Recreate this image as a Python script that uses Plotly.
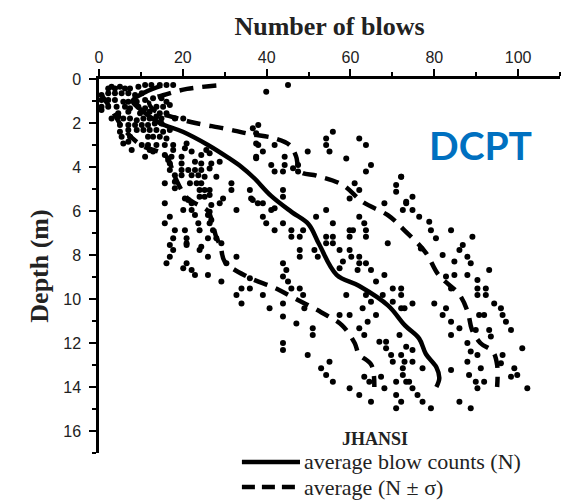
import plotly.graph_objects as go

# ---- Data (N = number of blows, depth in m) ----
# average blow counts (N)
avg_depth = [0.3, 0.6, 1.0, 1.4, 2.0, 2.4, 3.0, 3.6, 4.0, 4.5, 5.3, 6.05, 6.6, 7.5,
             8.9, 9.4, 10.3, 11.2, 11.8, 12.5, 13.1, 13.6, 14.0]
avg_N = [15, 11, 8, 10, 14.5, 20, 26, 31, 34, 37, 41, 46, 50, 52.5,
         56.7, 62, 69, 73, 76.4, 78, 80.5, 81.2, 80.5]

# average - sigma
lo_depth = [0.7, 1.4, 2.3, 3.0, 3.5, 4.4, 5.4, 6.0, 6.5, 7.2, 7.6, 8.3, 9.0, 9.5,
            10.0, 10.6, 11.2, 12.0, 12.5, 13.0, 14.0]
lo_N = [0.5, 3, 6, 10, 16, 18, 21, 26, 27, 28, 29, 30, 35.5, 42,
        47, 53, 58, 61, 62, 65, 65.7]

# average + sigma
hi_depth = [0.3, 0.45, 0.7, 1.0, 1.4, 1.75, 2.0, 2.25, 2.5, 2.7, 3.0, 3.5, 4.2, 4.4,
            4.8, 5.6, 6.2, 6.9, 7.9, 8.9, 9.8, 10.6, 11.4, 12.0, 12.4, 13.0, 14.0]
hi_N = [28, 21, 16, 12, 13, 18, 23, 30, 36, 42, 45.5, 47, 48, 52,
        58, 63, 69, 73, 78, 81, 86, 88, 89, 91, 94, 95, 95]

# individual blow counts, (N, depth) readings grouped by region
pts_shallow_left = [
    (2.2, 0.43), (3.0, 0.35), (3.8, 0.43), (5.0, 0.35), (6.2, 0.43), (7.4, 0.43), (9.4, 0.35),
    (11.0, 0.27), (12.5, 0.27), (14.5, 0.27), (16.1, 0.27), (17.7, 0.27),
    (0.6, 0.73), (2.2, 0.65), (3.8, 0.65), (5.4, 0.65), (7.0, 0.65), (8.6, 0.73), (10.2, 0.65),
    (0.6, 0.96), (2.2, 0.96), (3.8, 0.96), (5.8, 1.03), (7.0, 1.03), (9.0, 1.03), (11.0, 0.96),
    (12.9, 0.88), (14.9, 0.88), (16.1, 1.03),
    (0.6, 1.26), (2.2, 1.26), (4.2, 1.26), (6.2, 1.26), (7.4, 1.33), (9.4, 1.26), (11.0, 1.33),
    (13.7, 1.26), (15.3, 1.26), (16.9, 1.18),
    (0.6, 1.41), (4.6, 1.56), (7.0, 1.49), (9.8, 1.56), (12.1, 1.49), (14.5, 1.56), (16.1, 1.56),
    (3.0, 1.79), (4.6, 1.71), (5.8, 1.79), (7.4, 1.79), (9.0, 1.87), (10.6, 1.79), (12.1, 1.79),
    (13.7, 1.71), (14.9, 1.79), (18.1, 1.79), (20.1, 1.79),
    (5.0, 2.09), (7.0, 2.09), (8.6, 2.09), (10.2, 2.09), (11.7, 2.09), (13.3, 2.02), (14.9, 2.02),
    (5.0, 2.4), (7.0, 2.32), (9.0, 2.32), (10.6, 2.32), (12.1, 2.32), (13.7, 2.32), (15.3, 2.4),
    (16.9, 2.32),
    (5.4, 2.62), (7.4, 2.62), (11.7, 2.62), (12.9, 2.62), (14.5, 2.62), (16.1, 2.7),
    (5.8, 2.93), (7.0, 2.85), (10.2, 3.0), (11.7, 3.0), (13.7, 3.0), (15.7, 3.0), (17.7, 3.0),
    (20.9, 2.93),
    (7.8, 3.23), (12.1, 3.23), (12.9, 3.3), (17.7, 3.23), (20.5, 3.15),
    (11.0, 3.53), (15.7, 3.46), (17.3, 3.53), (19.7, 3.53), (22.1, 3.3), (24.4, 3.46),
    (26.4, 3.38), (25.6, 3.23),
    (16.5, 3.68), (16.9, 3.84), (19.7, 3.84), (22.9, 3.76), (24.4, 3.84), (26.8, 3.84),
    (28.8, 3.76),
]
pts_mid_left = [
    (16.9, 4.14), (19.7, 4.14), (21.3, 4.14), (22.9, 4.14), (24.4, 4.14), (26.4, 4.07),
    (18.1, 4.37), (19.7, 4.37), (22.1, 4.37), (23.7, 4.37), (25.2, 4.44), (28.0, 4.44),
    (15.7, 4.74), (18.1, 4.67), (21.7, 4.74), (23.3, 4.74), (24.4, 4.74), (31.6, 4.74),
    (18.1, 4.97), (24.0, 5.05), (25.2, 5.05), (26.4, 5.05), (31.6, 5.05),
    (20.5, 5.43), (21.3, 5.5), (24.0, 5.35), (25.2, 5.35), (26.4, 5.27), (29.6, 5.43),
    (15.7, 5.65), (22.1, 5.65), (26.8, 5.73), (28.8, 5.65), (32.8, 5.96), (36.3, 5.43),
    (20.1, 5.96), (22.1, 5.96), (26.4, 6.03),
    (16.9, 6.26), (22.9, 6.18), (26.0, 6.18), (26.8, 6.41),
    (15.7, 6.56), (23.7, 6.56), (26.4, 6.56),
    (18.1, 6.87), (20.5, 6.87), (24.0, 6.87), (27.2, 6.87),
    (17.7, 7.24), (20.9, 7.24), (26.0, 7.24), (28.0, 7.24),
    (16.9, 7.55), (20.9, 7.47), (24.4, 7.62), (29.2, 7.47),
]
pts_shallow_mid = [
    (39.9, 0.58), (45.1, 0.27),
    (38.0, 2.09), (36.7, 2.24), (37.5, 2.47), (37.5, 2.93), (37.5, 3.6),
    (38.0, 3.0), (39.1, 3.3), (37.5, 3.53), (41.1, 3.91), (41.9, 4.21), (43.9, 4.21),
    (44.3, 3.91), (44.3, 3.53), (46.3, 4.06), (47.5, 3.91), (47.5, 4.21), (41.9, 3.0),
    (49.8, 3.3), (54.2, 2.7), (54.2, 3.0), (55.8, 2.4), (55.0, 3.3), (59.0, 3.61),
    (62.1, 2.7), (63.7, 3.0), (64.9, 3.91), (63.7, 4.21), (61.0, 4.74), (62.1, 5.05),
    (59.8, 5.43), (68.1, 5.65), (72.1, 4.44), (70.9, 4.82), (70.9, 5.12), (73.3, 5.65),
    (36.7, 5.5), (37.9, 5.65), (39.1, 5.65), (43.9, 5.05), (43.9, 5.35), (41.1, 5.96),
    (41.9, 5.88), (39.1, 6.26), (39.9, 6.56), (41.9, 6.87), (43.9, 6.56), (45.9, 6.87),
    (45.9, 7.17), (47.9, 7.17), (48.7, 6.87), (51.8, 6.26), (54.2, 5.96), (55.8, 6.56),
    (54.2, 7.17), (55.8, 7.17), (54.2, 7.47), (55.8, 7.47), (59.8, 6.87), (60.6, 6.87),
    (59.8, 7.17), (62.1, 6.26), (63.3, 6.56), (63.7, 6.87), (63.7, 7.17), (68.9, 7.47),
    (72.5, 5.96), (36.0, 5.05),
]
pts_shallow_right = [
    (72.1, 4.44), (73.3, 5.58), (74.8, 5.35), (74.8, 5.96), (76.4, 6.26), (78.8, 6.49),
    (79.2, 6.87), (84.0, 6.87), (80.4, 7.24), (86.8, 7.55), (89.1, 7.17), (76.8, 7.7),
]
pts_deep_left = [
    (17.7, 7.77), (16.9, 8.08), (16.1, 8.38), (20.9, 8.38), (20.1, 8.6), (22.1, 8.68),
    (22.9, 8.91), (26.0, 8.91), (24.0, 7.77), (26.0, 8.08), (29.2, 9.21), (30.4, 8.38),
    (32.8, 8.08), (34.0, 9.52), (32.8, 9.82), (34.0, 10.2), (36.0, 9.52), (20.9, 7.55),
]
pts_deep_mid = [
    (47.9, 7.77), (47.9, 8.08), (51.4, 7.77), (52.2, 8.08), (43.9, 8.38), (44.7, 8.68),
    (43.9, 8.98), (45.1, 9.21), (45.9, 9.52), (47.9, 9.52), (48.7, 9.82), (39.1, 9.82),
    (40.7, 10.42), (43.9, 10.2), (43.9, 10.8), (47.1, 11.11), (49.0, 10.42), (51.0, 11.33),
    (51.0, 11.64), (43.9, 12.0), (43.9, 12.32), (49.8, 12.55), (53.0, 13.15), (55.0, 12.85),
    (54.2, 13.45), (55.8, 13.76), (59.8, 14.06), (62.1, 14.36), (64.9, 14.67), (70.9, 14.97),
    (59.0, 9.82), (57.4, 10.73), (59.8, 10.73), (62.1, 11.33), (63.3, 11.64), (64.1, 11.03),
    (62.9, 10.42), (64.9, 10.12), (66.1, 9.21), (68.1, 8.91), (70.1, 9.52), (72.1, 9.52),
    (72.1, 9.82), (72.1, 10.42), (66.1, 10.73), (66.9, 11.94), (68.5, 11.94), (68.5, 12.24),
    (69.7, 12.55), (70.1, 12.85), (72.1, 12.55), (72.5, 13.15), (70.9, 13.76), (73.3, 13.76),
    (70.9, 14.36), (72.1, 14.67), (59.8, 7.77), (60.2, 8.08), (62.1, 8.08), (62.1, 8.38),
    (63.7, 8.38), (61.7, 8.68), (64.9, 8.68), (57.4, 7.77), (58.2, 8.3), (57.4, 8.6),
    (63.7, 9.82), (67.7, 9.82), (70.1, 10.12), (36.0, 9.06), (63.3, 13.53), (64.5, 13.76),
    (67.3, 13.53), (68.1, 14.06),
]
pts_deep_right = [
    (82.0, 8.0), (86.0, 7.77), (87.9, 8.08), (88.7, 8.38), (84.8, 8.3), (93.1, 8.68),
    (84.8, 8.91), (87.9, 8.91), (90.3, 9.14), (90.3, 9.52), (92.3, 9.52), (90.3, 9.82),
    (92.3, 9.82), (94.3, 10.2), (95.9, 10.42), (96.3, 10.73), (97.1, 11.03), (98.3, 11.41),
    (101.0, 12.24), (90.7, 10.73), (91.9, 10.73), (89.9, 11.41), (93.1, 11.41), (93.5, 11.71),
    (87.9, 12.0), (88.7, 12.39), (90.3, 12.55), (96.3, 12.55), (95.9, 12.92), (87.9, 12.85),
    (91.1, 13.15), (88.3, 13.45), (89.9, 13.76), (90.3, 14.06), (91.9, 13.76), (99.1, 13.15),
    (98.3, 13.53), (99.8, 13.45), (102.2, 14.06), (86.0, 14.67), (88.7, 14.97), (84.0, 11.64),
    (86.0, 11.33), (84.0, 11.03), (82.0, 10.73), (82.8, 10.42), (80.0, 10.2), (74.8, 10.2),
    (84.0, 13.23), (71.7, 11.64), (73.3, 12.17), (74.8, 12.32), (72.9, 12.85), (74.8, 12.85),
    (77.2, 13.15), (72.5, 13.45), (74.0, 13.76), (74.8, 14.06), (76.0, 14.36), (77.2, 14.67),
    (79.2, 14.97), (82.8, 8.98), (84.0, 9.52), (72.9, 10.42),
]

x_ticks = [0, 20, 40, 60, 80, 100]
y_ticks = [0, 2, 4, 6, 8, 10, 12, 14, 16]
legend_title = "JHANSI"
legend_avg = "average blow counts (N)"
legend_sigma = "average (N ± σ)"

# ---- Build figure ----
all_pts = (pts_shallow_left + pts_mid_left + pts_shallow_mid + pts_shallow_right
           + pts_deep_left + pts_deep_mid + pts_deep_right)
pN = [p[0] for p in all_pts]
pD = [p[1] for p in all_pts]

fig = go.Figure()
fig.add_trace(go.Scatter(x=pN, y=pD, mode="markers",
                         marker=dict(color="black", size=6, line=dict(width=0)),
                         showlegend=False, cliponaxis=False))
fig.add_trace(go.Scatter(x=lo_N, y=lo_depth, mode="lines",
                         line=dict(color="black", width=4.5, dash="14px,9px", shape="spline"),
                         showlegend=False))
fig.add_trace(go.Scatter(x=hi_N, y=hi_depth, mode="lines",
                         line=dict(color="black", width=4.5, dash="14px,9px", shape="spline"),
                         showlegend=False))
fig.add_trace(go.Scatter(x=avg_N, y=avg_depth, mode="lines",
                         line=dict(color="black", width=4.5, shape="spline"),
                         showlegend=False))

serif = "Liberation Serif, Times New Roman, serif"
sans = "Liberation Sans, Arial, sans-serif"

fig.update_layout(
    width=569, height=501,
    margin=dict(l=99, r=9, t=79, b=48, pad=0),
    paper_bgcolor="white", plot_bgcolor="white",
    showlegend=False,
    xaxis=dict(
        side="top", range=[0, 110], tickvals=x_ticks,
        ticks="outside", ticklen=7, tickwidth=2, tickcolor="black",
        minor=dict(dtick=10, ticks="outside", ticklen=4, tickwidth=2, tickcolor="black"),
        showline=True, linewidth=2.5, linecolor="black", mirror=False,
        showgrid=False, zeroline=False,
        tickfont=dict(family=sans, size=16, color="#222"),
        title=dict(text="<b>Number of blows</b>", font=dict(family=serif, size=26, color="#222"),
                   standoff=6),
    ),
    yaxis=dict(
        range=[17, 0], tickvals=y_ticks,
        ticks="outside", ticklen=7, tickwidth=2, tickcolor="black",
        minor=dict(dtick=1, ticks="outside", ticklen=4, tickwidth=2, tickcolor="black"),
        showline=True, linewidth=2.5, linecolor="black", mirror=False,
        showgrid=False, zeroline=False, ticklabelstandoff=5,
        tickfont=dict(family=sans, size=16, color="#222"),
        title=dict(text="<b>Depth (m)</b>", font=dict(family=serif, size=26, color="#222"),
                   standoff=8),
    ),
)

# DCPT label
fig.add_annotation(text="<b>DCPT</b>", xref="paper", yref="paper", x=0.827, y=0.824,
                   xanchor="center", yanchor="middle", showarrow=False,
                   font=dict(family="Lato, Open Sans, sans-serif", size=39, color="#0070C0"))

# Legend (drawn manually to match layout)
fig.add_annotation(text="<b>" + legend_title + "</b>", xref="paper", yref="paper",
                   x=0.599, y=0.0374, xanchor="center", yanchor="middle", showarrow=False,
                   font=dict(family=serif, size=18, color="#222"))
fig.add_shape(type="line", xref="paper", yref="paper", x0=0.310, x1=0.436,
              y0=-0.024, y1=-0.024, line=dict(color="black", width=4.5))
fig.add_annotation(text=legend_avg, xref="paper", yref="paper", x=0.440, y=-0.024,
                   xanchor="left", yanchor="middle", showarrow=False,
                   font=dict(family=serif, size=22, color="#222"))
fig.add_shape(type="line", xref="paper", yref="paper", x0=0.310, x1=0.436,
              y0=-0.091, y1=-0.091, line=dict(color="black", width=4.5, dash="13px,7px"))
fig.add_annotation(text=legend_sigma, xref="paper", yref="paper", x=0.440, y=-0.091,
                   xanchor="left", yanchor="middle", showarrow=False,
                   font=dict(family=serif, size=22, color="#222"))

fig.write_html("out.html")
